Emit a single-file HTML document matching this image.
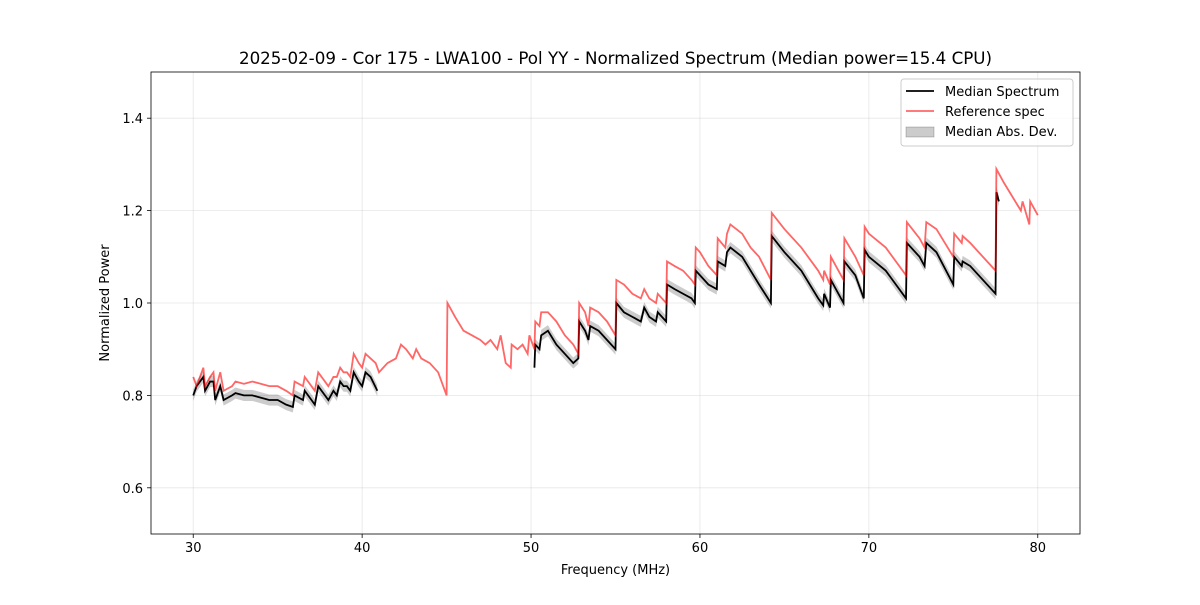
<!DOCTYPE html>
<html><head><meta charset="utf-8"><style>
body{margin:0;background:#fff;font-family:"Liberation Sans","DejaVu Sans",sans-serif;}
svg text{font-family:"DejaVu Sans","Liberation Sans",sans-serif;}
</style></head><body>
<svg id="chart" width="1200" height="600" xmlns="http://www.w3.org/2000/svg"></svg>
<script>
const xTicks=[30,40,50,60,70,80];
const yTicks=[0.6,0.8,1.0,1.2,1.4];
const yTickLabels=["0.6","0.8","1.0","1.2","1.4"];
const refFreq=[30.0,30.2,30.6,30.7,31.0,31.2,31.3,31.6,31.8,32.3,32.5,33,33.5,34.5,35.0,35.5,35.9,36.0,36.5,36.6,37.0,37.2,37.4,37.8,38.0,38.3,38.5,38.7,38.9,39.1,39.3,39.5,39.8,40.0,40.2,40.5,40.8,41.0,41.5,42.0,42.3,42.6,43.0,43.2,43.5,44.0,44.5,45.0,45.05,45.5,46.0,46.5,47.0,47.3,47.6,48.0,48.2,48.5,48.8,48.85,49.2,49.5,49.8,49.9,50.0,50.2,50.25,50.5,50.6,51.0,51.5,52.0,52.5,52.8,52.85,53.2,53.4,53.5,54.0,54.5,55.0,55.05,55.5,56.0,56.5,56.7,57.0,57.4,57.5,58.0,58.05,58.5,59.0,59.5,59.7,59.75,60.0,60.5,61.0,61.05,61.5,61.6,61.8,62.5,63.0,63.5,64.2,64.25,65.0,66.0,67.0,67.3,67.35,67.7,67.75,68.2,68.5,68.55,69.2,69.7,69.75,70.0,71.0,72.2,72.25,73.0,73.3,73.4,74.0,75.0,75.05,75.5,75.55,76.0,77.5,77.55,78.0,78.5,79.0,79.1,79.5,79.55,80.0];
const refPower=[0.84,0.82,0.86,0.82,0.84,0.85,0.81,0.85,0.81,0.82,0.83,0.825,0.83,0.82,0.82,0.81,0.80,0.83,0.82,0.84,0.82,0.81,0.85,0.83,0.82,0.84,0.84,0.86,0.85,0.85,0.84,0.89,0.87,0.86,0.89,0.88,0.87,0.85,0.87,0.88,0.91,0.90,0.88,0.90,0.88,0.87,0.85,0.80,1.00,0.97,0.94,0.93,0.92,0.91,0.92,0.90,0.93,0.87,0.86,0.91,0.90,0.91,0.89,0.93,0.92,0.90,0.96,0.95,0.98,0.98,0.96,0.93,0.91,0.89,1.00,0.98,0.95,0.99,0.98,0.96,0.93,1.05,1.04,1.02,1.01,1.03,1.01,1.00,1.02,1.00,1.09,1.08,1.07,1.05,1.04,1.12,1.11,1.08,1.06,1.14,1.12,1.15,1.17,1.15,1.12,1.10,1.05,1.195,1.16,1.12,1.07,1.05,1.07,1.04,1.10,1.07,1.05,1.14,1.10,1.06,1.165,1.15,1.12,1.06,1.175,1.14,1.12,1.175,1.16,1.10,1.15,1.13,1.145,1.13,1.07,1.29,1.26,1.23,1.20,1.22,1.17,1.22,1.19];
const medFreq=[30,30.2,30.6,30.7,31,31.2,31.3,31.6,31.8,32.3,32.5,33,33.5,34.5,35,35.5,35.9,36.0,36.5,36.6,37.0,37.2,37.4,37.8,38.0,38.3,38.5,38.7,38.9,39.1,39.3,39.5,39.8,40.0,40.2,40.5,40.9,null,50.2,50.25,50.5,50.6,51.0,51.5,52.0,52.5,52.8,52.85,53.2,53.4,53.5,54.0,54.5,55.0,55.05,55.5,56.0,56.5,56.7,57.0,57.4,57.5,58.0,58.05,58.5,59.0,59.5,59.7,59.75,60.0,60.5,61.0,61.05,61.5,61.6,61.8,62.5,63.0,63.5,64.2,64.25,65.0,66.0,67.0,67.3,67.35,67.7,67.75,68.2,68.5,68.55,69.2,69.7,69.75,70.0,71.0,72.2,72.25,73.0,73.3,73.4,74.0,75.0,75.05,75.5,75.55,76.0,77.5,77.55,77.7];
const medPower=[0.80,0.82,0.84,0.81,0.83,0.83,0.79,0.82,0.79,0.80,0.805,0.80,0.80,0.79,0.79,0.78,0.775,0.80,0.79,0.81,0.79,0.78,0.82,0.80,0.79,0.81,0.80,0.83,0.82,0.82,0.81,0.85,0.83,0.82,0.85,0.84,0.81,null,0.86,0.91,0.90,0.93,0.94,0.91,0.89,0.87,0.88,0.96,0.94,0.92,0.95,0.94,0.92,0.90,1.00,0.98,0.97,0.96,0.99,0.97,0.96,0.98,0.96,1.04,1.03,1.02,1.01,1.00,1.07,1.06,1.04,1.03,1.09,1.08,1.11,1.12,1.10,1.07,1.04,1.00,1.145,1.11,1.07,1.01,0.995,1.02,0.99,1.05,1.02,1.00,1.09,1.06,1.01,1.115,1.10,1.07,1.01,1.13,1.10,1.08,1.13,1.11,1.04,1.10,1.08,1.09,1.08,1.02,1.24,1.22];
const madHalf=0.012;

const NS="http://www.w3.org/2000/svg";
const svg=document.getElementById('chart');
const L=151,R=1080,T=72,B=534,X0=27.5,X1=82.5,Y0=0.5,Y1=1.5;
const sx=v=>L+(v-X0)/(X1-X0)*(R-L);
const sy=v=>B-(v-Y0)/(Y1-Y0)*(B-T);
function mk(tag,attrs,parent){const e=document.createElementNS(NS,tag);for(const k in attrs)e.setAttribute(k,attrs[k]);(parent||svg).appendChild(e);return e;}
function txt(s,attrs){const t=mk('text',attrs);t.textContent=s;return t;}

xTicks.forEach(v=>{const g=mk('line',{x1:sx(v),x2:sx(v),y1:T,y2:B,stroke:'#b0b0b0','stroke-opacity':0.3,'stroke-width':0.8});

});
yTicks.forEach(v=>{const g=mk('line',{x1:L,x2:R,y1:sy(v),y2:sy(v),stroke:'#b0b0b0','stroke-opacity':0.3,'stroke-width':0.8});

});

function segments(fx,fy){const segs=[];let cur=[];for(let i=0;i<fx.length;i++){if(fx[i]===null||fy[i]===null){if(cur.length)segs.push(cur);cur=[];}else cur.push([fx[i],fy[i]]);}if(cur.length)segs.push(cur);return segs;}
const medSegs=segments(medFreq,medPower);
medSegs.forEach(seg=>{
  let d='M'+seg.map(p=>sx(p[0])+','+sy(p[1]+madHalf)).join('L');
  d+='L'+seg.slice().reverse().map(p=>sx(p[0])+','+sy(p[1]-madHalf)).join('L')+'Z';
  const b=mk('path',{d:d,fill:'#000','fill-opacity':0.2,stroke:'none'});
  
  
});
medSegs.forEach(seg=>{
  const p=mk('polyline',{points:seg.map(q=>sx(q[0])+','+sy(q[1])).join(' '),fill:'none',stroke:'#000','stroke-width':1.8});
  
  
});
segments(refFreq,refPower).forEach(seg=>{
  const p=mk('polyline',{points:seg.map(q=>sx(q[0])+','+sy(q[1])).join(' '),fill:'none',stroke:'#ff0000','stroke-opacity':0.6,'stroke-width':1.8});
  
  
});

const fr=mk('rect',{x:L,y:T,width:R-L,height:B-T,fill:'none',stroke:'#000','stroke-width':0.8});


xTicks.forEach(v=>{mk('line',{x1:sx(v),x2:sx(v),y1:B,y2:B+4,stroke:'#000','stroke-width':0.8});
const t=txt(String(v),{x:sx(v),y:B+18,'text-anchor':'middle','font-size':13});

});
yTicks.forEach((v,i)=>{mk('line',{x1:L-4,x2:L,y1:sy(v),y2:sy(v),stroke:'#000','stroke-width':0.8});
const t=txt(yTickLabels[i],{x:L-8,y:sy(v)+5,'text-anchor':'end','font-size':13});

});

const xt=txt('Frequency (MHz)',{x:(L+R)/2,y:574,'text-anchor':'middle','font-size':13});


const yt=txt('Normalized Power',{x:0,y:0,'text-anchor':'middle','font-size':13,transform:'translate(109,303) rotate(-90)'});


const tt=txt('2025-02-09 - Cor 175 - LWA100 - Pol YY - Normalized Spectrum (Median power=15.4 CPU)',{x:(L+R)/2,y:64,'text-anchor':'middle','font-size':16.7});



const lg=mk('g',{});


mk('rect',{x:901,y:79,width:172,height:67,rx:3,fill:'#fff','fill-opacity':0.8,stroke:'#ccc'},lg);
mk('line',{x1:906,x2:934,y1:91,y2:91,stroke:'#000','stroke-width':1.8},lg);
mk('line',{x1:906,x2:934,y1:111,y2:111,stroke:'#ff0000','stroke-opacity':0.6,'stroke-width':1.8},lg);
mk('rect',{x:906,y:127,width:28,height:10,fill:'#000','fill-opacity':0.2,stroke:'#000','stroke-opacity':0.2},lg);
[['Median Spectrum',96],['Reference spec',116],['Median Abs. Dev.',136]].forEach(a=>{
  const t=mk('text',{x:945,y:a[1],'font-size':13},lg);t.textContent=a[0];
  
  
});
</script>
</body></html>
